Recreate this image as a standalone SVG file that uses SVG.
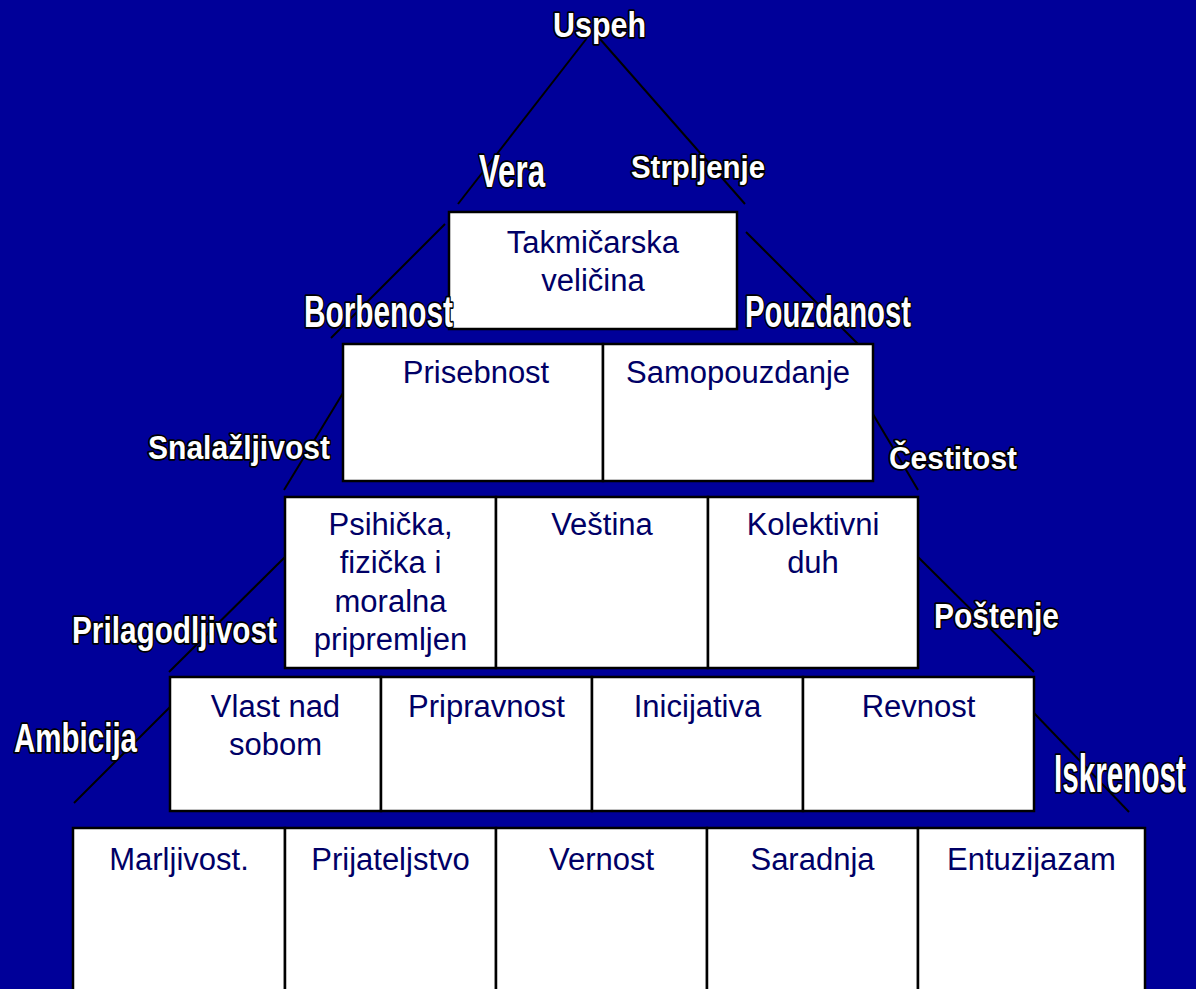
<svg xmlns="http://www.w3.org/2000/svg" width="1196" height="989" viewBox="0 0 1196 989">
<style>
.cell{fill:#ffffff;stroke:#000000;stroke-width:2.5}
.t{font-family:"Liberation Sans",Arial,sans-serif;font-size:31px;fill:#000066;text-anchor:middle}
.lbl{font-family:"Liberation Sans",Arial,sans-serif;font-weight:bold;fill:#ffffff;stroke:#000000;stroke-width:3.5;paint-order:stroke;stroke-linejoin:round}
.ln{stroke:#000000;stroke-width:2;fill:none}
</style>
<rect x="0" y="0" width="1196" height="989" fill="#000099"/>
<g id="connectors">
<line class="ln" x1="587" y1="38" x2="458" y2="204"/>
<line class="ln" x1="445" y1="224" x2="331" y2="338"/>
<line class="ln" x1="343" y1="393" x2="284" y2="490"/>
<line class="ln" x1="285" y1="557" x2="169" y2="672"/>
<line class="ln" x1="170" y1="707" x2="74" y2="803"/>
<line class="ln" x1="600" y1="39" x2="745" y2="204"/>
<line class="ln" x1="746" y1="232" x2="861" y2="347"/>
<line class="ln" x1="861" y1="394" x2="918" y2="490"/>
<line class="ln" x1="918" y1="557" x2="1034" y2="672"/>
<line class="ln" x1="1034" y1="713" x2="1129" y2="812"/>
</g>
<g id="node-takmicarska">
<rect class="cell" x="449" y="212" width="288" height="117"/>
<text class="t" x="593" y="253">Takmičarska</text>
<text class="t" x="593" y="291">veličina</text>
</g>
<g id="node-prisebnost">
<rect class="cell" x="343" y="344" width="260" height="137"/>
<text class="t" x="476" y="383">Prisebnost</text>
</g>
<g id="node-samopouzdanje">
<rect class="cell" x="603" y="344" width="270" height="137"/>
<text class="t" x="738" y="383">Samopouzdanje</text>
</g>
<g id="node-psihicka">
<rect class="cell" x="285" y="497" width="211" height="171"/>
<text class="t" x="390.5" y="535">Psihička,</text>
<text class="t" x="390.5" y="573">fizička i</text>
<text class="t" x="390.5" y="612">moralna</text>
<text class="t" x="390.5" y="650">pripremljen</text>
</g>
<g id="node-vestina">
<rect class="cell" x="496" y="497" width="212" height="171"/>
<text class="t" x="602" y="535">Veština</text>
</g>
<g id="node-kolektivni">
<rect class="cell" x="708" y="497" width="210" height="171"/>
<text class="t" x="813" y="535">Kolektivni</text>
<text class="t" x="813" y="573">duh</text>
</g>
<g id="node-vlast">
<rect class="cell" x="170" y="677" width="211" height="134"/>
<text class="t" x="275.5" y="717">Vlast nad</text>
<text class="t" x="275.5" y="755">sobom</text>
</g>
<g id="node-pripravnost">
<rect class="cell" x="381" y="677" width="211" height="134"/>
<text class="t" x="486.5" y="717">Pripravnost</text>
</g>
<g id="node-inicijativa">
<rect class="cell" x="592" y="677" width="211" height="134"/>
<text class="t" x="697.5" y="717">Inicijativa</text>
</g>
<g id="node-revnost">
<rect class="cell" x="803" y="677" width="231" height="134"/>
<text class="t" x="918.5" y="717">Revnost</text>
</g>
<g id="node-marljivost">
<rect class="cell" x="73" y="828" width="212" height="175"/>
<text class="t" x="179" y="870">Marljivost.</text>
</g>
<g id="node-prijateljstvo">
<rect class="cell" x="285" y="828" width="211" height="175"/>
<text class="t" x="390.5" y="870">Prijateljstvo</text>
</g>
<g id="node-vernost">
<rect class="cell" x="496" y="828" width="211" height="175"/>
<text class="t" x="601.5" y="870">Vernost</text>
</g>
<g id="node-saradnja">
<rect class="cell" x="707" y="828" width="211" height="175"/>
<text class="t" x="812.5" y="870">Saradnja</text>
</g>
<g id="node-entuzijazam">
<rect class="cell" x="918" y="828" width="227" height="175"/>
<text class="t" x="1031.5" y="870">Entuzijazam</text>
</g>
<g id="labels">
<text class="lbl" x="553" y="37" font-size="35" textLength="93" lengthAdjust="spacingAndGlyphs">Uspeh</text>
<text class="lbl" x="479" y="187" font-size="46" textLength="66" lengthAdjust="spacingAndGlyphs">Vera</text>
<text class="lbl" x="631" y="178" font-size="32" textLength="134" lengthAdjust="spacingAndGlyphs">Strpljenje</text>
<text class="lbl" x="304" y="327" font-size="44" textLength="149" lengthAdjust="spacingAndGlyphs">Borbenost</text>
<text class="lbl" x="745" y="327" font-size="44" textLength="166" lengthAdjust="spacingAndGlyphs">Pouzdanost</text>
<text class="lbl" x="148" y="459" font-size="33" textLength="182" lengthAdjust="spacingAndGlyphs">Snalažljivost</text>
<text class="lbl" x="889" y="469" font-size="32" textLength="128" lengthAdjust="spacingAndGlyphs">Čestitost</text>
<text class="lbl" x="72" y="643" font-size="36" textLength="205" lengthAdjust="spacingAndGlyphs">Prilagodljivost</text>
<text class="lbl" x="934" y="628" font-size="35" textLength="125" lengthAdjust="spacingAndGlyphs">Poštenje</text>
<text class="lbl" x="14" y="752" font-size="40" textLength="123" lengthAdjust="spacingAndGlyphs">Ambicija</text>
<text class="lbl" x="1054" y="792" font-size="54" textLength="132" lengthAdjust="spacingAndGlyphs">Iskrenost</text>
</g>
</svg>
